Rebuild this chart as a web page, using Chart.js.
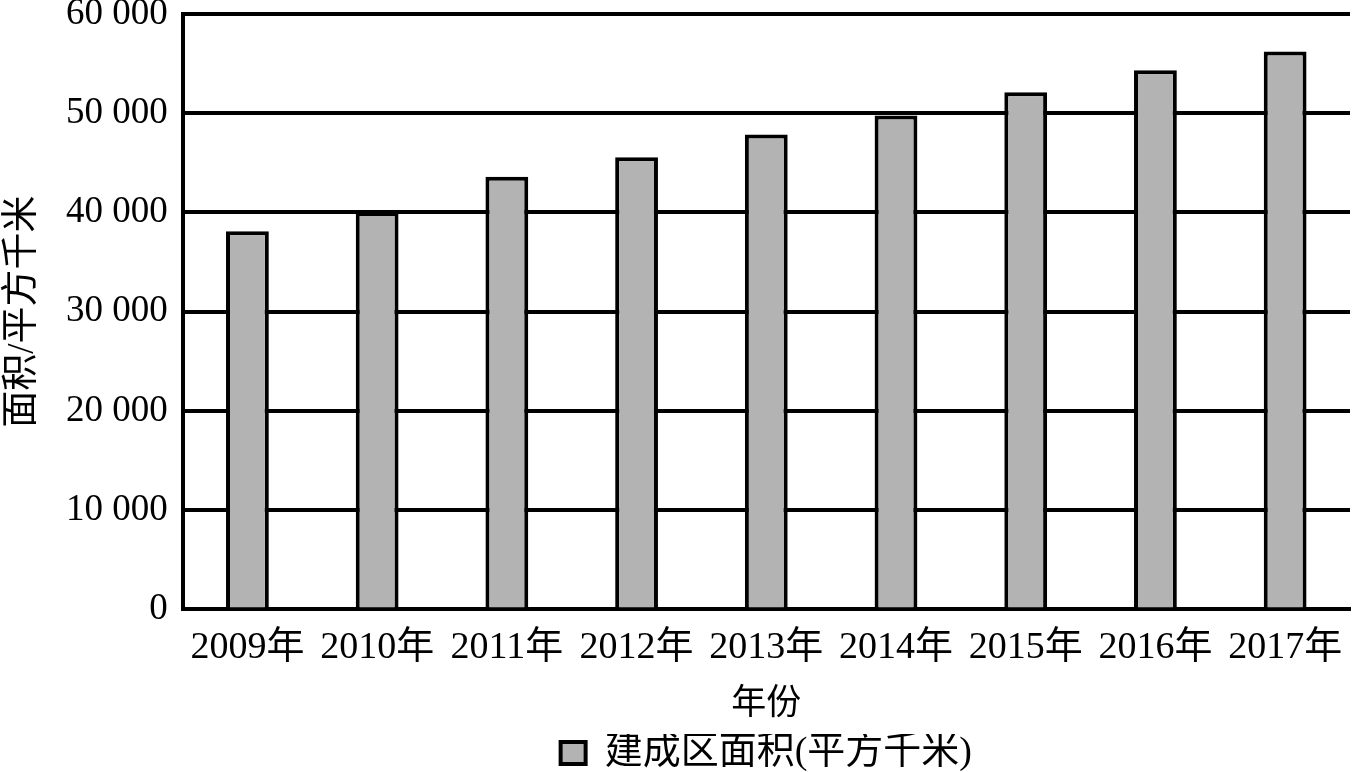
<!DOCTYPE html>
<html>
<head>
<meta charset="utf-8">
<script src="https://cdn.jsdelivr.net/npm/chart.js@4"></script>
<style>
  html, body { margin: 0; padding: 0; background: #fff; }
  #wrap { width: 1356px; height: 772px; }
</style>
</head>
<body>
<div id="wrap"><canvas id="areaChart"></canvas></div>
<script>
// datos
const years = ['2009年', '2010年', '2011年', '2012年', '2013年', '2014年', '2015年', '2016年', '2017年'];
const builtArea = [38107, 40058, 43603, 45566, 47855, 49773, 52102, 54331, 56225];
const yTicks = [0, 10000, 20000, 30000, 40000, 50000, 60000];

const FONT = '"Liberation Serif", "Times New Roman", "Noto Sans CJK SC", serif';

// formato "60 000" + espacio para separar del eje
function fmt(v) {
    const s = v === 0 ? '0' : (v / 1000) + ' 000';
    return s + '\u2009\u2009';
}

const ctx = document.getElementById('areaChart').getContext('2d');
new Chart(ctx, {
    type: 'bar',
    data: {
        labels: years,
        datasets: [{
            label: '建成区面积(平方千米)',
            data: builtArea,
            backgroundColor: '#b3b3b3',
            borderColor: '#000',
            borderWidth: 4,
            barPercentage: 0.66,
            categoryPercentage: 0.5
        }]
    },
    options: {
        responsive: true,
        maintainAspectRatio: false,
        animation: false,
        layout: { padding: { top: 14, right: 6, bottom: -10, left: 0 } },
        plugins: {
            legend: {
                position: 'bottom',
                fullSize: false,
                labels: {
                    color: '#000',
                    font: { family: FONT, size: 38, lineHeight: 1 },
                    boxWidth: 25,
                    boxHeight: 22,
                    padding: 0
                }
            },
            tooltip: { enabled: false }
        },
        scales: {
            x: {
                grid: { display: false },
                border: { display: true, color: '#000', width: 4 },
                ticks: { color: '#000', font: { family: FONT, size: 38 }, padding: 8, maxRotation: 0, autoSkip: false },
                title: { display: true, text: '年份', color: '#000', font: { family: FONT, size: 35 }, padding: { top: 5, bottom: 8 } }
            },
            y: {
                min: 0,
                max: 60000,
                afterBuildTicks: axis => { axis.ticks = yTicks.map(v => ({ value: v })); },
                grid: { color: '#000', lineWidth: 4, drawTicks: false },
                border: { display: true, color: '#000', width: 4 },
                ticks: { color: '#000', font: { family: FONT, size: 37, lineHeight: 0.6 }, padding: 0, callback: v => fmt(v) },
                title: { display: true, text: '面积/平方千米', color: '#000', font: { family: FONT, size: 37, lineHeight: 1 }, padding: { top: 5, bottom: 24 } }
            }
        }
    }
});
</script>
</body>
</html>
